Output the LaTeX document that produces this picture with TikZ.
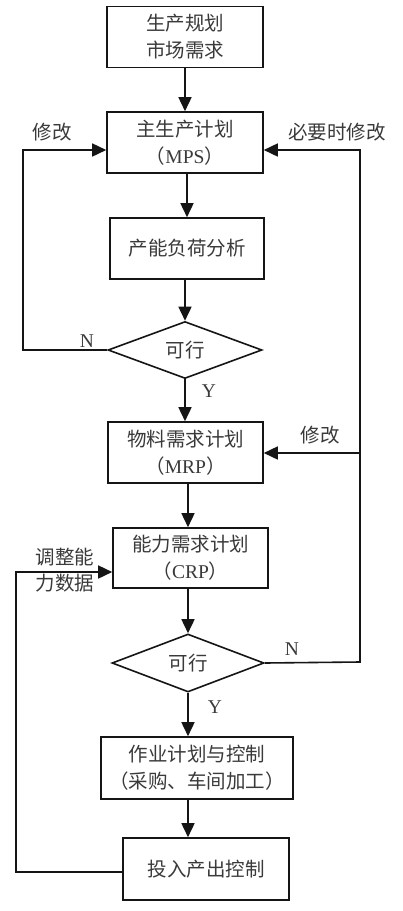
\documentclass[tikz,border=0pt]{standalone}
\usepackage{fontspec}
\setmainfont{Liberation Serif}
\newfontfamily\cjk{Noto Sans CJK SC}
\usetikzlibrary{arrows.meta,shapes.geometric}
\definecolor{txt}{HTML}{3A3A3A}
\definecolor{ln}{HTML}{151515}
\begin{document}
\begin{tikzpicture}[x=1pt,y=-1pt,
  box/.style={draw=ln,line width=1.6pt,minimum width=#1,minimum height=61pt,inner sep=0pt,align=center,text=txt,font=\fontsize{19.5}{27}\selectfont\cjk},
  dia/.style={draw=ln,line width=1.6pt,diamond,aspect=2.7,minimum width=#1,minimum height=57pt,inner sep=0pt,text=txt,font=\fontsize{19.5}{27}\selectfont\cjk},
  lab/.style={inner sep=0pt,align=center,text=txt,font=\fontsize{19.5}{26}\selectfont\cjk},
  latlab/.style={inner sep=0pt,text=txt,font=\fontsize{19.5}{24}\selectfont\rmfamily},
  arr/.style={draw=ln,line width=1.6pt,-{Triangle[length=14pt,width=13pt]}}]
\fill[white] (0,0) rectangle (403,911);
\useasboundingbox (0,0) rectangle (403,911);

\node[box=156pt] (b1) at (185,37) {生产规划\\市场需求};
\node[box=156pt] (b2) at (185,142.5) {主生产计划\\（{\rmfamily MPS}）};
\node[box=154pt] (b3) at (187,248.5) {产能负荷分析};
\node[dia=154pt] (d1) at (185,350) {可行};
\node[box=155pt] (mrp) at (185.5,452.5) {物料需求计划\\（{\rmfamily MRP}）};
\node[box=155pt,minimum height=60pt] (crp) at (190.5,558) {能力需求计划\\（{\rmfamily CRP}）};
\node[dia=152pt,minimum height=58pt] (d2) at (188,663) {可行};
\node[box=192pt,minimum height=62pt] (b6) at (197,768) {作业计划与控制\\（采购、车间加工）};
\node[box=166pt,minimum height=62pt] (b7) at (206,869) {投入产出控制};

\coordinate (xa) at (187,0);
\coordinate (xc) at (188,0);
\coordinate (ya) at (0,150);
\coordinate (yb) at (0,453);
\coordinate (yc) at (0,572);
\coordinate (l1) at (23,350);
\coordinate (r1) at (360,662);
\coordinate (l2) at (16,872);

\draw[arr] (b1) -- (b2);
\draw[arr] (b2.south -| xa) -- (b3.north -| xa);
\draw[arr] (b3.south -| d1.north) -- (d1.north);
\draw[arr] (d1.south) -- (mrp.north -| d1.south);
\draw[arr] (mrp.south -| xc) -- (crp.north -| xc);
\draw[arr] (crp.south -| d2.north) -- (d2.north);
\draw[arr] (d2.south) -- (b6.north -| d2.south);
\draw[arr] (b6.south -| xc) -- (b7.north -| xc);

\draw[arr] (d1.west) -- (l1) |- (b2.west |- ya);
\draw[arr] (d2.east) -- (r1) |- (b2.east |- ya);
\draw[arr] (r1 |- yb) -- (mrp.east |- yb);
\draw[arr] (b7.west |- l2) -- (l2) |- (crp.west |- yc);

\node[lab] (m1) at (52,132) {修改};
\node[lab] (m2) at (337,132) {必要时修改};
\node[latlab] (n1) at (87,341) {N};
\node[latlab] (y1) at (209,391) {Y};
\node[lab] (m3) at (320,435) {修改};
\node[lab] (m4) at (65,570) {调整能\\力数据};
\node[latlab] (n2) at (292,649) {N};
\node[latlab] (y2) at (215,707) {Y};
\end{tikzpicture}
\end{document}
